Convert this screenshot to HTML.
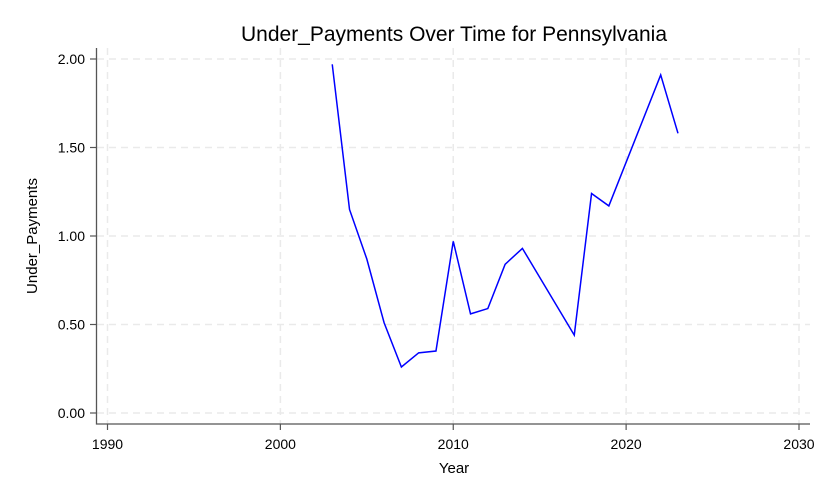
<!DOCTYPE html>
<html><head><meta charset="utf-8"><style>
body{margin:0;background:#fff}
svg text{font-family:"Liberation Sans",Arial,sans-serif;fill:#000}
</style></head><body>
<svg id="chart" width="831" height="498" xmlns="http://www.w3.org/2000/svg">
<text x="454" y="41" font-size="21" text-anchor="middle">Under_Payments Over Time for Pennsylvania</text>
<g id="grid"></g>
<g id="axes"></g>
<text x="454" y="473" font-size="15" text-anchor="middle">Year</text>
<text transform="translate(37,236) rotate(-90)" font-size="15" text-anchor="middle">Under_Payments</text>
<polyline id="line" fill="none" stroke="#0000ff" stroke-width="1.5"/>
</svg>
<script>
const years=[2003,2004,2005,2006,2007,2008,2009,2010,2011,2012,2013,2014,2017,2018,2019,2022,2023];
const values=[1.97,1.15,0.87,0.51,0.26,0.34,0.35,0.97,0.56,0.59,0.84,0.93,0.44,1.24,1.17,1.91,1.58];
const xTicks=[1990,2000,2010,2020,2030];
const yTicks=[0,0.5,1,1.5,2];
const yLabels=["0.00","0.50","1.00","1.50","2.00"];
const NS="http://www.w3.org/2000/svg";
const x=v=>107.5+(v-1990)*(799-107.5)/40;
const y=v=>413-v*177;
const grid=document.getElementById('grid'),axes=document.getElementById('axes');
function mk(tag,attrs,parent){const e=document.createElementNS(NS,tag);for(const k in attrs)e.setAttribute(k,attrs[k]);parent.appendChild(e);return e;}
xTicks.forEach((t,i)=>{
  const g=mk('line',{x1:x(t),x2:x(t),y1:48,y2:424,stroke:'#eaeaea','stroke-width':1.5,'stroke-dasharray':'7,5'},grid);
  
  
  const tk=mk('line',{x1:x(t),x2:x(t),y1:424,y2:430,stroke:'#555','stroke-width':1.2},axes);
  
  
  const tx=mk('text',{x:x(t),y:449,'font-size':14,'text-anchor':'middle'},axes);
  tx.textContent=t;
  
  
});
yTicks.forEach((t,i)=>{
  const g=mk('line',{x1:97,x2:810,y1:y(t),y2:y(t),stroke:'#eaeaea','stroke-width':1.5,'stroke-dasharray':'7,5'},grid);
  
  
  const tk=mk('line',{x1:90,x2:97,y1:y(t),y2:y(t),stroke:'#555','stroke-width':1.2},axes);
  
  
  const tx=mk('text',{x:85,y:y(t)+5,'font-size':14,'text-anchor':'end'},axes);
  tx.textContent=yLabels[i];
  
  
});
const sp=mk('path',{d:'M96.5,48 V424 H810',fill:'none',stroke:'#555','stroke-width':1.3},axes);


document.getElementById('line').setAttribute('points',years.map((yr,i)=>x(yr)+','+y(values[i])).join(' '));
</script>
</body></html>
